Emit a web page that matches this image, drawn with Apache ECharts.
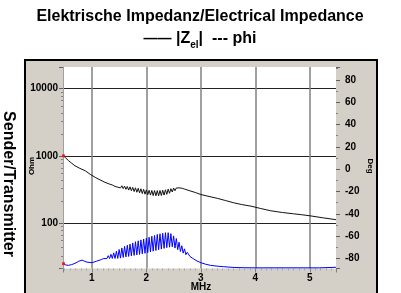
<!DOCTYPE html>
<html>
<head>
<meta charset="utf-8">
<script src="https://cdn.jsdelivr.net/npm/echarts@6/dist/echarts.min.js"></script>
<style>
html,body{margin:0;padding:0;background:#fff;}
#main{width:401px;height:293px;}
</style>
</head>
<body>
<div id="main"></div>
<script>
// axis ranges (MHz / Ohm / Deg)
var xMin = 0.47, xMax = 5.48;
var ohmMin = 21, ohmMax = 21000;
var degMin = -89, degMax = 91.5;

// |Zel| curve
var zFreq = [0.48,0.52,0.57,0.63,0.69,0.78,0.88,0.97,1.06,1.15,1.24,1.33,1.375,
    1.4,1.425,1.45,1.475,1.5,1.525,1.55,1.575,1.6,1.625,1.65,1.675,1.7,1.725,1.75,1.775,
    1.8,1.825,1.85,1.875,1.9,1.925,1.95,1.975,2.0,2.025,2.05,2.075,2.1,2.125,2.15,2.175,
    2.2,2.225,2.25,2.275,2.3,2.325,2.35,2.375,2.4,2.425,2.45,2.475,2.5,2.525,2.55,2.575,2.6,
    2.63,2.66,2.7,2.8,2.9,3.0,3.15,3.3,3.45,3.6,3.75,3.92,4.1,4.28,4.5,4.7,4.84,5.0,5.25,5.48];
var zOhm = [1000,930,850,775,710,650,598,530,478,438,403,378,368,
    369,350,367,341,364,333,358,325,354,317,349,309,345,302,339,294,
    334,287,328,281,323,274,317,268,311,263,307,260,305,256,304,254,
    303,254,305,256,307,260,312,267,319,277,324,289,331,302,332,312,333,
    330,328,320,301,284,265,248,233,216,200,188,178,164,152,143,137,133,128,119,112];

// phi curve
var phiFreq = [0.48,0.52,0.57,0.63,0.69,0.76,0.82,0.87,0.91,1.0,1.09,1.18,1.22,
    1.25,1.275,1.3,1.325,1.35,1.375,1.4,1.425,1.45,1.475,
    1.5,1.525,1.55,1.575,1.6,1.625,1.65,1.675,1.7,1.725,
    1.75,1.775,1.8,1.825,1.85,1.875,1.9,1.925,1.95,1.975,
    2.0,2.025,2.05,2.075,2.1,2.125,2.15,2.175,2.2,2.225,
    2.25,2.275,2.3,2.325,2.35,2.375,2.4,2.425,2.45,2.475,
    2.5,2.525,2.55,2.575,2.6,2.625,2.65,2.675,2.7,2.725,
    2.75,
    2.8,2.87,2.93,3.0,3.09,3.18,3.3,3.42,3.61,3.8,4.0,4.6,5.18,5.2,5.48];
var phiDeg = [-84.7,-85.8,-86.2,-85.5,-84.4,-82.5,-81.5,-82.6,-83.3,-83.8,-82.4,-80.9,-80.0,
    -78.7,-80.2,-77.5,-80.1,-76.3,-80.0,-75.0,-80.0,-73.6,-80.0,
    -72.0,-79.7,-70.6,-79.1,-69.2,-78.6,-68.2,-78.2,-67.1,-77.7,
    -66.1,-77.3,-65.0,-76.8,-64.2,-76.4,-63.4,-75.9,-62.6,-75.4,
    -61.8,-74.8,-61.0,-74.2,-60.1,-73.5,-59.4,-72.9,-58.5,-72.2,
    -57.9,-71.6,-57.5,-71.0,-56.9,-70.3,-56.9,-69.9,-57.8,-69.6,
    -59.8,-70.7,-62.1,-72.1,-65.4,-73.8,-68.6,-75.2,-71.4,-76.6,
    -74.5,
    -78.2,-80.5,-82.3,-83.8,-85.2,-86.2,-86.9,-87.4,-88.1,-88.3,-88.4,-88.4,-88.4,-87.9,-87.9];

function pairs(xs, ys) {
    var res = [];
    for (var i = 0; i < xs.length; i++) res.push([xs[i], ys[i]]);
    return res;
}

var FONT = '"Liberation Sans", Arial, sans-serif';
var labelStyle = {color: '#000', fontWeight: 'bold', fontSize: 10, fontFamily: FONT};

var myChart = echarts.init(document.getElementById('main'), null, {renderer: 'canvas'});
var option = {
    animation: false,
    backgroundColor: '#fff',
    graphic: [
        {type: 'rect', z: -10, shape: {x: 25, y: 60, width: 352, height: 260},
            style: {fill: '#d4d0c8', stroke: '#000', lineWidth: 2}},
        {type: 'text', x: 200, y: 17,
            style: {text: 'Elektrische Impedanz/Electrical Impedance', fill: '#000',
                font: 'bold 16px ' + FONT, align: 'center', verticalAlign: 'middle'}},
        {type: 'text', x: 200, y: 39,
            style: {text: '{d|——} |Z{s|el}|  --- phi', fill: '#000',
                font: 'bold 16px ' + FONT, align: 'center', verticalAlign: 'middle',
                rich: {
                    d: {font: 'bold 14px ' + FONT},
                    s: {font: 'bold 10px ' + FONT, padding: [12, 0, 0, 0]}
                }}},
        {type: 'text', x: 8, y: 184, rotation: -Math.PI / 2,
            style: {text: 'Sender/Transmitter', fill: '#000',
                font: 'bold 16px ' + FONT, align: 'center', verticalAlign: 'middle'}},
        {type: 'text', x: 32, y: 166, rotation: Math.PI / 2,
            style: {text: 'Ohm', fill: '#000', font: 'bold 8px ' + FONT,
                align: 'center', verticalAlign: 'middle'}},
        {type: 'text', x: 370, y: 166, rotation: -Math.PI / 2,
            style: {text: 'Deg', fill: '#000', font: 'bold 8px ' + FONT,
                align: 'center', verticalAlign: 'middle'}},
        {type: 'text', x: 201, y: 287,
            style: {text: 'MHz', fill: '#000', font: 'bold 10px ' + FONT,
                align: 'center', verticalAlign: 'middle'}}
    ],
    grid: {left: 63, top: 67, right: 65, bottom: 24.5, show: true,
        backgroundColor: '#fff', borderWidth: 0},
    xAxis: {
        type: 'value', min: xMin, max: xMax, splitNumber: 5,
        axisLine: {show: false, onZero: false},
        axisTick: {show: true, length: 4, lineStyle: {color: '#808080'}},
        minorTick: {show: true, splitNumber: 10, length: 2, lineStyle: {color: '#a8a8a8'}},
        axisLabel: Object.assign({showMinLabel: false, showMaxLabel: false, margin: 5}, labelStyle),
        splitLine: {show: true, showMinLine: false, showMaxLine: false,
            lineStyle: {color: '#808080', width: 1.5}}
    },
    yAxis: [
        {
            type: 'log', logBase: 10, min: ohmMin, max: ohmMax, position: 'left',
            axisLine: {show: true, onZero: false, lineStyle: {color: '#a0a0a0'}},
            axisTick: {show: true, length: 4, lineStyle: {color: '#606060'}},
            minorTick: {show: true, splitNumber: 8, length: 2, lineStyle: {color: '#808080'}},
            axisLabel: Object.assign({showMinLabel: false, showMaxLabel: false, margin: 5,
                formatter: function (v) { return String(Math.round(v)); }}, labelStyle),
            splitLine: {show: true, showMinLine: false, showMaxLine: false,
                lineStyle: {color: '#222', width: 1}}
        },
        {
            type: 'value', min: degMin, max: degMax, splitNumber: 9, position: 'right',
            axisLine: {show: false, onZero: false},
            axisTick: {show: true, length: 4, lineStyle: {color: '#606060'}},
            minorTick: {show: true, splitNumber: 2, length: 2, lineStyle: {color: '#808080'}},
            axisLabel: Object.assign({showMinLabel: false, showMaxLabel: false, margin: 9}, labelStyle),
            splitLine: {show: false}
        }
    ],
    series: [
        {
            name: '|Zel|', type: 'line', yAxisIndex: 0, showSymbol: false,
            lineStyle: {color: '#111', width: 1}, data: pairs(zFreq, zOhm)
        },
        {
            name: 'phi', type: 'line', yAxisIndex: 1, showSymbol: false,
            lineStyle: {color: '#0000ff', width: 1}, data: pairs(phiFreq, phiDeg)
        },
        {
            type: 'scatter', yAxisIndex: 0, symbol: 'rect', symbolSize: 3, z: 5,
            itemStyle: {color: '#ff0000'}, data: [[zFreq[0], zOhm[0]]]
        },
        {
            type: 'scatter', yAxisIndex: 1, symbol: 'rect', symbolSize: 3, z: 5,
            itemStyle: {color: '#ff0000'}, data: [[phiFreq[0], phiDeg[0]]]
        }
    ]
};
myChart.setOption(option);
</script>
</body>
</html>
